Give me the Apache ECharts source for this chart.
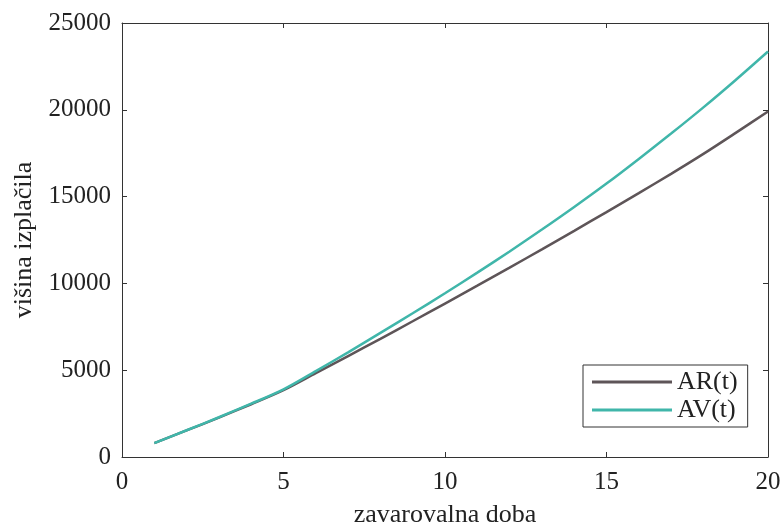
<!DOCTYPE html>
<html>
<head>
<meta charset="utf-8">
<script src="https://cdn.jsdelivr.net/npm/echarts@6/dist/echarts.min.js"></script>
<style>
  html, body { margin: 0; padding: 0; background: #fff; }
  #chart { width: 784px; height: 526px; }
</style>
</head>
<body>
<div id="chart"></div>
<script>
// zavarovalna doba (years)
const years = [1, 2, 3, 4, 5, 6, 7, 8, 9, 10, 11, 12, 13, 14, 15, 16, 17, 18, 19, 20]
const arValues = [800, 1530, 2270, 3040, 3850, 4830, 5815, 6810, 7820, 8840,
  9870, 10910, 11960, 13030, 14110, 15200, 16310, 17460, 18670, 19900]
const avValues = [800, 1540, 2290, 3070, 3900, 4950, 6030, 7150, 8280, 9430,
  10620, 11840, 13100, 14400, 15750, 17170, 18630, 20140, 21720, 23360]
const xTicks = [0, 5, 10, 15, 20]
const yTicks = [0, 5000, 10000, 15000, 20000, 25000]

const font = 'Liberation Serif, Times New Roman, serif'
const axisColor = '#333'
const textColor = '#222'

const toPairs = vals => years.map((t, i) => [t, vals[i]])

const chart = echarts.init(document.getElementById('chart'))

const baseAxis = {
  axisLine: { show: true, onZero: false, lineStyle: { color: axisColor, width: 1 } },
  axisTick: { show: true, inside: true, length: 5, lineStyle: { color: axisColor } },
  splitLine: { show: false }
}

const option = {
  animation: false,
  grid: { left: 122, right: 16, top: 23, bottom: 69, containLabel: false, outerBoundsMode: 'none' },
  legend: {
    orient: 'vertical',
    left: 583,
    top: 365,
    icon: 'rect',
    itemWidth: 80,
    itemHeight: 3,
    itemGap: 2,
    padding: [4, 10, 4, 9],
    borderColor: '#333',
    borderWidth: 1,
    borderRadius: 0,
    backgroundColor: '#fff',
    textStyle: { fontFamily: font, fontSize: 26, color: textColor },
    data: ['AR(t)', 'AV(t)']
  },
  xAxis: [
    Object.assign({}, baseAxis, {
      type: 'value',
      min: 0, max: 20, interval: 5,
      name: 'zavarovalna doba',
      nameLocation: 'middle',
      nameGap: 45,
      nameTextStyle: { fontFamily: font, fontSize: 26, color: textColor },
      axisLabel: { fontFamily: font, fontSize: 25, color: textColor, margin: 13,
        formatter: v => xTicks.includes(v) ? String(v) : '' }
    }),
    Object.assign({}, baseAxis, {
      type: 'value', position: 'top',
      min: 0, max: 20, interval: 5,
      axisLabel: { show: false }
    })
  ],
  yAxis: [
    Object.assign({}, baseAxis, {
      type: 'value',
      min: 0, max: 25000, interval: 5000,
      name: 'višina izplačila',
      nameLocation: 'middle',
      nameGap: 84,
      nameRotate: 90,
      nameTextStyle: { fontFamily: font, fontSize: 26, color: textColor },
      axisLabel: { fontFamily: font, fontSize: 25, color: textColor, margin: 11,
        formatter: v => yTicks.includes(v) ? String(v) : '' }
    }),
    Object.assign({}, baseAxis, {
      type: 'value', position: 'right',
      min: 0, max: 25000, interval: 5000,
      axisLabel: { show: false }
    })
  ],
  series: [
    {
      name: 'AR(t)',
      type: 'line',
      symbol: 'none',
      smooth: 0.3,
      data: toPairs(arValues),
      lineStyle: { color: '#5e5558', width: 2.5 },
      itemStyle: { color: '#5e5558' }
    },
    {
      name: 'AV(t)',
      type: 'line',
      symbol: 'none',
      smooth: 0.3,
      data: toPairs(avValues),
      lineStyle: { color: '#40b6aa', width: 2.5 },
      itemStyle: { color: '#40b6aa' }
    }
  ]
}
chart.setOption(option)
</script>
</body>
</html>
